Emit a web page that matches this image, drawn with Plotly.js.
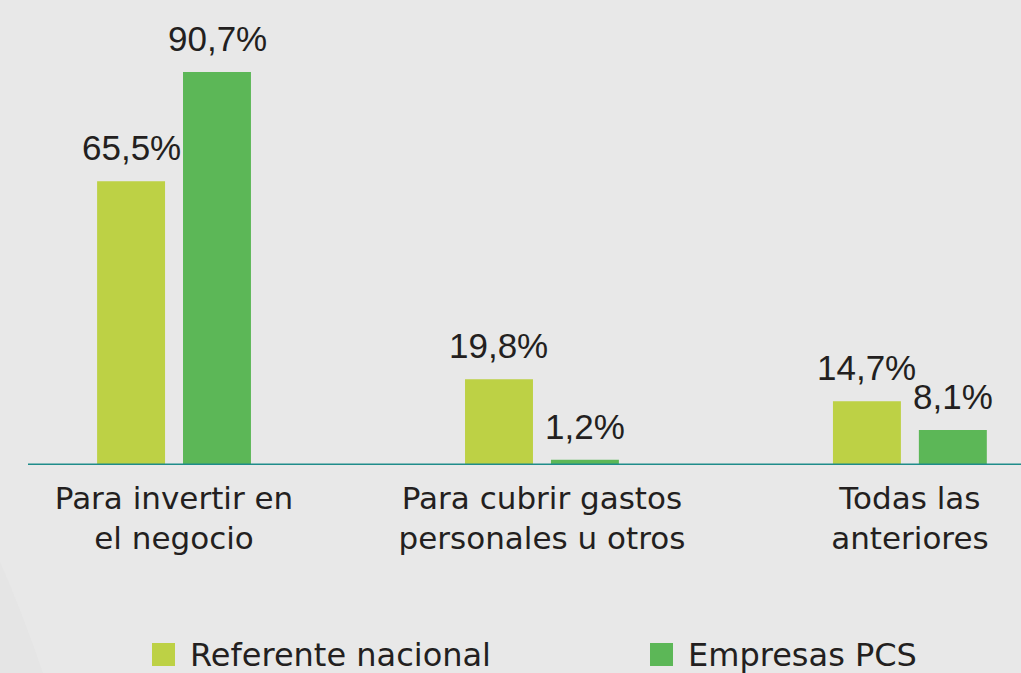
<!DOCTYPE html>
<html>
<head>
<meta charset="utf-8">
<script src="https://cdn.plot.ly/plotly-3.0.1.min.js"></script>
<style>
  html, body { margin: 0; padding: 0; background: #e8e8e8; }
  #chart { width: 1021px; height: 673px; }
</style>
</head>
<body>
<div id="chart"></div>
<script>
// categories and values (percent)
const categories = ['Para invertir en<br>el negocio', 'Para cubrir gastos<br>personales u otros', 'Todas las<br>anteriores'];
const seriesNames = ['Referente nacional', 'Empresas PCS'];
const referente = [65.5, 19.8, 14.7];
const empresas = [90.7, 1.2, 8.1];
const colors = ['#bdd145', '#5cb757'];

const fmt = v => v.toFixed(1).replace('.', ',') + '%';

function makeBar(name, vals, color) {
    return {
        type: 'bar',
        name: name,
        x: categories,
        y: vals,
        marker: { color: color },
        showlegend: false,
        hoverinfo: 'skip'
    };
}

const data = [
    makeBar(seriesNames[0], referente, colors[0]),
    makeBar(seriesNames[1], empresas, colors[1])
];

// value labels above each bar
const labelFont = { family: 'Liberation Sans, Arial, sans-serif', size: 35, color: '#231f20' };
const annotations = [];
[referente, empresas].forEach((vals, s) => {
    vals.forEach((v, i) => {
        annotations.push({
            x: categories[i], y: v, xref: 'x', yref: 'y',
            text: fmt(v), showarrow: false,
            yanchor: 'bottom', xanchor: 'center',
            xshift: s === 0 ? -43 : 43, yshift: 12,
            font: labelFont
        });
    });
});

// legend drawn by hand so the swatches can be large
const legendX = [152, 650];
const shapes = [
    { type: 'path', xref: 'paper', yref: 'paper', layer: 'below',
      path: 'M -0.01 -0.161 Q 0.02 -0.3 0.044 -0.46 L -0.01 -0.46 Z',
      fillcolor: '#e5e5e5', line: { width: 0 } },
    { type: 'line', xref: 'paper', yref: 'y', x0: 28 / 1021, x1: 1, y0: 0, y1: 0,
      line: { color: '#1f8c8a', width: 3 } }
];
seriesNames.forEach((n, s) => {
    shapes.push({ type: 'rect', xref: 'paper', yref: 'paper',
        x0: legendX[s] / 1021, x1: (legendX[s] + 23) / 1021,
        y0: -(643 - 465) / 465, y1: -(666 - 465) / 465,
        fillcolor: colors[s], line: { width: 0 } });
    annotations.push({ xref: 'paper', yref: 'paper',
        x: (legendX[s] + 36) / 1021, y: -(655 - 465) / 465,
        xanchor: 'left', yanchor: 'middle', showarrow: false,
        text: n, font: { family: 'DejaVu Sans, sans-serif', size: 32, color: '#231f20' } });
});

const layout = {
    width: 1021,
    height: 673,
    margin: { l: 0, r: 0, t: 0, b: 208 },
    paper_bgcolor: '#e8e8e8',
    plot_bgcolor: 'rgba(0,0,0,0)',
    barmode: 'group',
    bargap: 0.533,
    bargroupgap: 0.209,
    showlegend: false,
    xaxis: {
        type: 'category',
        range: [-0.473, 2.302],
        showline: false,
        showgrid: false,
        zeroline: false,
        ticks: '',
        ticklabelstandoff: 12,
        tickfont: { family: 'DejaVu Sans, sans-serif', size: 31, color: '#231f20' },
        fixedrange: true
    },
    yaxis: {
        range: [0, 107.3],
        visible: false,
        showgrid: false,
        zeroline: false,
        fixedrange: true
    },
    shapes: shapes,
    annotations: annotations
};

Plotly.newPlot('chart', data, layout, { displayModeBar: false, staticPlot: true });
</script>
</body>
</html>
